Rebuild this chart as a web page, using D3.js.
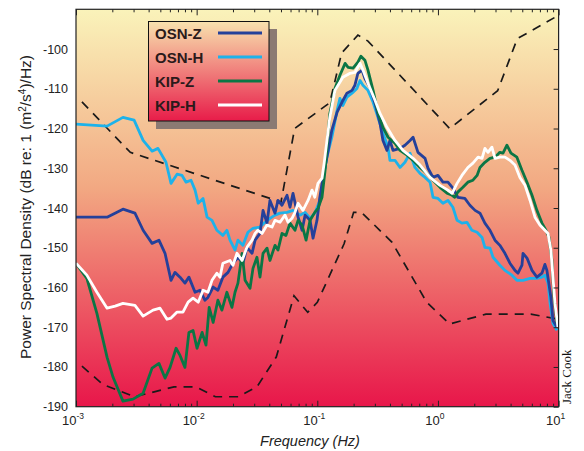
<!DOCTYPE html>
<html>
<head>
<meta charset="utf-8">
<script src="https://cdn.jsdelivr.net/npm/d3@7/dist/d3.min.js"></script>
<style>
  body { margin: 0; background: #fff; }
  svg { display: block; }
</style>
</head>
<body>
<div id="chart"></div>
<script>
// ---------------- data: [frequency (Hz), dB] ----------------
var osnZ = [[0.001,-142.3],[0.00181,-142.3],[0.00245,-140.3],[0.00308,-141.3],[0.0036,-145.6],[0.00427,-148.9],
  [0.00487,-148.1],[0.00547,-151.4],[0.00613,-158.2],[0.00661,-156.2],[0.00728,-157.4],[0.0080,-158.9],[0.00863,-157.4],
  [0.0097,-161.2],[0.01066,-160.7],[0.0117,-163.2],[0.0124,-162.5],[0.0137,-159.9],[0.0150,-160.7],[0.0165,-157.4],
  [0.0182,-156.2],[0.0200,-153.9],[0.0220,-152.4],[0.0242,-153.9],[0.0261,-149.9],[0.0288,-151.4],[0.0305,-148.1],
  [0.0335,-146.4],[0.0355,-140.6],[0.0383,-143.8],[0.0405,-138.1],[0.0446,-141.3],[0.0472,-138.1],[0.0510,-139.3],
  [0.0561,-136.8],[0.0594,-139.8],[0.0629,-136.3],[0.0693,-142.3],[0.0748,-145.6],[0.0792,-141.8],[0.0871,-143.1],
  [0.0922,-147.6],[0.0994,-143.1],[0.105,-137.3],[0.1115,-132.3],[0.116,-129.8],[0.132,-120.4],[0.146,-115.9],
  [0.160,-113.4],[0.176,-111.1],[0.194,-110.4],[0.205,-109.1],[0.217,-106.1],[0.235,-105.3],[0.248,-107.4],
  [0.273,-109.6],[0.301,-113.7],[0.331,-118.7],[0.350,-123.0],[0.378,-125.5],[0.400,-123.0],[0.424,-125.5],
  [0.485,-125.0],[0.533,-124.2],[0.587,-123.0],[0.622,-122.2],[0.683,-126.0],[0.782,-127.5],[0.827,-130.0],
  [0.910,-132.3],[1.0,-131.8],[1.10,-133.5],[1.21,-133.5],[1.33,-135.0],[1.46,-137.3],[1.67,-137.6],[1.84,-139.3],
  [2.03,-140.6],[2.23,-141.3],[2.45,-143.8],[2.70,-145.6],[2.97,-148.1],[3.26,-149.4],[3.59,-151.4],[3.95,-153.9],
  [4.35,-155.7],[4.61,-156.4],[4.97,-154.4],[5.07,-151.4],[5.47,-152.6],[6.02,-155.7],[6.61,-157.4],[7.28,-156.4],
  [7.70,-154.2],[8.0,-155.7],[8.63,-162.5],[8.98,-168.3],[9.7,-170.0]];

var osnH = [[0.001,-118.9],[0.00181,-119.4],[0.00245,-117.2],[0.00303,-117.9],[0.0036,-123.0],[0.00427,-125.7],
  [0.00478,-125.0],[0.00557,-128.5],[0.00613,-133.8],[0.00688,-131.5],[0.00757,-131.8],[0.00817,-133.5],[0.00898,-133.0],
  [0.0097,-135.5],[0.0103,-138.8],[0.0113,-137.6],[0.0122,-142.3],[0.0134,-143.1],[0.0147,-145.6],[0.0165,-146.9],
  [0.0178,-145.6],[0.0189,-148.1],[0.0208,-150.6],[0.0220,-148.1],[0.0242,-149.4],[0.0266,-146.1],[0.0293,-145.1],
  [0.0335,-144.8],[0.0368,-143.6],[0.0405,-142.6],[0.0446,-141.8],[0.0491,-141.3],[0.0561,-141.1],[0.0629,-140.6],
  [0.0719,-141.8],[0.0792,-141.1],[0.0871,-142.6],[0.0953,-141.3],[0.105,-138.1],[0.1115,-133.0],[0.116,-129.8],
  [0.120,-127.2],[0.132,-122.2],[0.146,-115.4],[0.154,-112.4],[0.163,-114.2],[0.176,-112.1],[0.194,-111.1],
  [0.213,-109.9],[0.226,-107.9],[0.239,-109.1],[0.263,-110.4],[0.290,-113.4],[0.318,-117.2],[0.350,-121.2],
  [0.386,-124.7],[0.400,-128.0],[0.440,-128.0],[0.485,-129.8],[0.533,-128.5],[0.587,-126.2],[0.645,-129.8],
  [0.710,-131.3],[0.782,-132.3],[0.860,-133.5],[0.910,-137.3],[1.0,-137.6],[1.10,-138.8],[1.21,-138.1],[1.33,-139.8],
  [1.44,-143.1],[1.58,-143.8],[1.74,-143.6],[1.91,-145.6],[2.11,-146.1],[2.32,-147.4],[2.45,-149.9],[2.70,-150.1],
  [2.86,-152.4],[3.26,-154.4],[3.59,-155.7],[4.10,-156.9],[4.51,-158.2],[5.07,-158.2],[5.80,-157.7],[6.61,-157.7],
  [7.28,-157.4],[7.70,-156.9],[8.17,-158.9],[8.5,-164.0],[8.98,-169.0],[9.7,-170.8]];

var kipZ = [[0.001,-153.9],[0.00123,-157.7],[0.00149,-166.5],[0.00181,-177.6],[0.00203,-182.6],[0.00245,-188.6],
  [0.00297,-188.1],[0.0036,-186.6],[0.00427,-180.3],[0.00487,-179.1],[0.00547,-182.8],[0.00602,-180.1],[0.00675,-175.3],
  [0.00728,-177.1],[0.0080,-180.1],[0.00863,-171.3],[0.00933,-170.8],[0.01007,-175.3],[0.0111,-171.3],[0.01195,-174.5],
  [0.0127,-165.0],[0.0137,-168.8],[0.0150,-163.2],[0.0162,-165.7],[0.0178,-161.2],[0.0196,-165.0],[0.0208,-161.2],
  [0.0220,-158.9],[0.0238,-151.4],[0.0252,-158.2],[0.0277,-160.2],[0.0293,-155.2],[0.0316,-152.4],[0.0335,-157.4],
  [0.0355,-151.4],[0.0383,-150.1],[0.0405,-153.2],[0.0446,-149.4],[0.0472,-150.6],[0.0510,-146.4],[0.0550,-146.9],
  [0.0594,-143.8],[0.0653,-145.6],[0.0693,-143.1],[0.0748,-144.3],[0.0807,-148.1],[0.0871,-143.1],[0.0953,-141.1],
  [0.1013,-140.1],[0.1094,-137.3],[0.116,-130.5],[0.127,-116.2],[0.140,-109.9],[0.154,-106.6],[0.170,-103.6],
  [0.180,-104.6],[0.198,-104.8],[0.217,-103.3],[0.230,-101.8],[0.248,-102.8],[0.263,-105.3],[0.290,-110.4],
  [0.318,-115.9],[0.350,-119.7],[0.386,-122.2],[0.440,-123.7],[0.485,-125.5],[0.554,-126.7],[0.622,-128.0],
  [0.710,-129.8],[0.810,-131.3],[0.910,-133.0],[1.04,-134.8],[1.19,-136.3],[1.31,-136.8],[1.38,-137.3],[1.46,-136.0],
  [1.61,-134.8],[1.77,-133.5],[1.95,-133.0],[2.11,-131.8],[2.23,-129.8],[2.45,-128.5],[2.70,-127.5],[2.97,-127.2],
  [3.26,-126.0],[3.46,-126.2],[3.73,-124.2],[4.03,-126.2],[4.51,-127.2],[4.97,-130.5],[5.47,-133.5],[6.02,-136.8],
  [6.61,-140.6],[7.28,-143.8],[7.85,-145.6],[8.33,-147.4],[8.81,-153.2],[9.15,-162.5],[9.7,-169.0]];

var kipH = [[0.001,-153.9],[0.00123,-156.9],[0.00149,-161.2],[0.00181,-165.2],[0.00211,-164.7],[0.00245,-164.0],
  [0.00308,-164.5],[0.0036,-167.2],[0.00435,-165.7],[0.00497,-165.2],[0.00568,-168.0],[0.00613,-167.7],[0.00688,-166.2],
  [0.0077,-166.2],[0.0085,-163.7],[0.00933,-162.7],[0.0103,-163.7],[0.0113,-160.7],[0.0124,-161.2],[0.0134,-158.2],
  [0.0147,-156.4],[0.0156,-157.4],[0.0165,-153.9],[0.0189,-153.2],[0.0200,-154.4],[0.0216,-151.4],[0.0238,-153.2],
  [0.0261,-149.9],[0.0288,-148.1],[0.0305,-146.4],[0.0322,-145.6],[0.0348,-146.4],[0.0383,-144.3],[0.0421,-144.8],
  [0.0446,-143.1],[0.0491,-143.6],[0.0540,-141.8],[0.0572,-143.6],[0.0617,-142.6],[0.0653,-141.1],[0.0693,-138.8],
  [0.0761,-140.6],[0.0838,-138.1],[0.0904,-135.5],[0.0953,-137.3],[0.1013,-133.8],[0.1094,-132.5],[0.114,-128.7],
  [0.127,-117.2],[0.140,-110.4],[0.163,-107.1],[0.187,-106.1],[0.205,-105.9],[0.226,-103.6],[0.239,-105.3],
  [0.263,-108.6],[0.301,-112.9],[0.331,-116.2],[0.378,-119.7],[0.440,-123.0],[0.513,-125.5],[0.622,-127.5],
  [0.710,-129.2],[0.860,-132.3],[1.04,-134.3],[1.21,-135.5],[1.31,-136.3],[1.44,-133.8],[1.58,-131.8],[1.77,-129.8],
  [1.95,-128.7],[2.15,-127.2],[2.32,-127.5],[2.45,-125.0],[2.60,-126.0],[2.80,-124.7],[2.97,-127.5],[3.26,-127.2],
  [3.59,-127.2],[3.95,-128.0],[4.35,-129.2],[4.78,-132.3],[5.27,-134.3],[5.80,-138.1],[6.37,-142.3],[7.0,-144.3],
  [7.70,-145.6],[8.17,-146.4],[8.63,-150.6],[8.98,-157.4],[9.33,-164.0],[9.88,-170.0]];

// Peterson new high / low noise models (dashed)
var highNoise = [[0.00112,-113.3],[0.00282,-126.0],[0.05,-138.5],[0.0649,-120.0],[0.127,-113.5],[0.159,-101.0],
  [0.217,-96.5],[0.263,-98.0],[1.25,-120.0],[3.125,-110.5],[4.545,-97.4],[10,-91.5]];
var lowNoise = [[0.00112,-179.8],[0.00167,-184.4],[0.00305,-187.5],[0.00649,-185.0],[0.0099,-185.0],[0.01429,-187.5],
  [0.0222,-187.5],[0.0316,-185.0],[0.0457,-177.5],[0.0641,-162.1],[0.0833,-166.25],[0.1,-163.75],[0.1667,-149.0],
  [0.2,-141.1],[0.2326,-141.1],[0.4167,-148.65],[0.806,-163.7],[1.25,-169.2],[2.5,-166.7],[5.88,-166.7],[10,-168.0]];

var seriesNames = ["OSN-Z", "OSN-H", "KIP-Z", "KIP-H"];
var seriesColors = ["#25409a", "#1db2ea", "#0b7645", "#ffffff"];
var yTicks = [-190, -180, -170, -160, -150, -140, -130, -120, -110, -100];
var xDecades = [-3, -2, -1, 0, 1];

// ---------------- layout ----------------
var width = 584, height = 451;
var plotL = 76, plotR = 558.6, plotT = 9.3, plotB = 406.7;

var svg = d3.select("#chart").append("svg")
  .attr("width", width).attr("height", height);

var x = d3.scaleLog().domain([1e-3, 10]).range([plotL, plotR]);
var y = d3.scaleLinear().domain([-190, -90]).range([plotB, plotT]);

var defs = svg.append("defs");
var bg = defs.append("linearGradient").attr("id", "bg").attr("x1", 0).attr("y1", 0).attr("x2", 0).attr("y2", 1);
bg.append("stop").attr("offset", "0%").attr("stop-color", "#faf3ba");
bg.append("stop").attr("offset", "45%").attr("stop-color", "#f2a882");
bg.append("stop").attr("offset", "100%").attr("stop-color", "#e8164a");

var lg = defs.append("linearGradient").attr("id", "lg").attr("x1", 0).attr("y1", 0).attr("x2", 0).attr("y2", 1);
lg.append("stop").attr("offset", "0%").attr("stop-color", "#f8e2ae");
lg.append("stop").attr("offset", "100%").attr("stop-color", "#e81c49");

defs.append("clipPath").attr("id", "plotclip")
  .append("rect").attr("x", plotL).attr("y", plotT).attr("width", plotR - plotL).attr("height", plotB - plotT);

svg.append("rect")
  .attr("x", plotL).attr("y", plotT).attr("width", plotR - plotL).attr("height", plotB - plotT)
  .attr("fill", "url(#bg)");

var line = d3.line().x(d => x(d[0])).y(d => y(d[1]));

var plot = svg.append("g").attr("clip-path", "url(#plotclip)");

// dashed noise models
[highNoise, lowNoise].forEach(function(m) {
  plot.append("path").datum(m)
    .attr("d", line)
    .attr("fill", "none")
    .attr("stroke", "#1a1a1a")
    .attr("stroke-width", 1.7)
    .attr("stroke-dasharray", "9,7");
});

// spectra, drawn light blue first so the others sit on top
var drawOrder = [[osnH, 1], [osnZ, 0], [kipZ, 2], [kipH, 3]];
drawOrder.forEach(function(s) {
  plot.append("path").datum(s[0])
    .attr("d", line)
    .attr("fill", "none")
    .attr("stroke", seriesColors[s[1]])
    .attr("stroke-width", 2.8)
    .attr("stroke-linejoin", "round");
});

// ---------------- axes ----------------
var xMinor = x.ticks();
function isMajor(v) { return Math.abs(Math.log10(v) - Math.round(Math.log10(v))) < 1e-6; }

var topAxis = svg.append("g").attr("transform", "translate(0," + plotT + ")")
  .call(d3.axisBottom(x).tickValues(xMinor).tickFormat("").tickSizeOuter(0));
topAxis.selectAll(".tick line").attr("y2", d => isMajor(d) ? 6 : 3).attr("stroke", "#222");
topAxis.select(".domain").remove();

var botAxis = svg.append("g").attr("transform", "translate(0," + plotB + ")")
  .call(d3.axisTop(x).tickValues(xMinor).tickFormat("").tickSizeOuter(0));
botAxis.selectAll(".tick line").attr("y2", d => isMajor(d) ? -6 : -3).attr("stroke", "#222");
botAxis.select(".domain").remove();

var rightAxis = svg.append("g").attr("transform", "translate(" + plotR + ",0)")
  .call(d3.axisLeft(y).tickValues(yTicks).tickFormat("").tickSize(5).tickSizeOuter(0));
rightAxis.selectAll(".tick line").attr("stroke", "#222");
rightAxis.select(".domain").remove();

// y tick labels
svg.append("g").selectAll("text")
  .data(yTicks)
  .join("text")
  .attr("x", 68)
  .attr("y", d => y(d) + 4.5)
  .attr("text-anchor", "end")
  .style("font-family", "'Liberation Sans', Arial, sans-serif")
  .style("font-size", "12.5px")
  .style("fill", "#222")
  .text(d => d);

// x tick labels (powers of ten)
var xl = svg.append("g").selectAll("text")
  .data(xDecades)
  .join("text")
  .attr("x", d => x(Math.pow(10, d)) - 3)
  .attr("y", 425)
  .attr("text-anchor", "middle")
  .style("font-family", "'Liberation Sans', Arial, sans-serif")
  .style("font-size", "13px")
  .style("fill", "#222");
xl.append("tspan").text("10");
xl.append("tspan").attr("dy", -6).style("font-size", "8.5px").text(d => d);

// frame
svg.append("rect")
  .attr("x", plotL).attr("y", plotT).attr("width", plotR - plotL).attr("height", plotB - plotT)
  .attr("fill", "none").attr("stroke", "#222").attr("stroke-width", 1.2);

// axis titles
svg.append("text")
  .attr("x", 310)
  .attr("y", 446)
  .attr("text-anchor", "middle")
  .style("font-family", "'Liberation Sans', Arial, sans-serif")
  .style("font-size", "14.5px")
  .style("font-style", "italic")
  .style("fill", "#222")
  .text("Frequency (Hz)");

var yt = svg.append("text")
  .attr("transform", "translate(31,207) rotate(-90)")
  .attr("text-anchor", "middle")
  .style("font-family", "'Liberation Sans', Arial, sans-serif")
  .style("font-size", "15.5px")
  .style("fill", "#222");
yt.append("tspan").text("Power Spectral Density (dB re: 1 (m");
yt.append("tspan").attr("dy", -5.5).style("font-size", "10px").text("2");
yt.append("tspan").attr("dy", 5.5).text("/s");
yt.append("tspan").attr("dy", -5.5).style("font-size", "10px").text("4");
yt.append("tspan").attr("dy", 5.5).text(")/Hz)");

// signature
svg.append("text")
  .attr("transform", "translate(571,404) rotate(-90)")
  .style("font-family", "'Liberation Serif', 'Times New Roman', serif")
  .style("font-size", "13px")
  .style("fill", "#111")
  .text("Jack Cook");

// ---------------- legend ----------------
var legend = svg.append("g");
legend.append("rect")
  .attr("x", 156).attr("y", 29).attr("width", 121).attr("height", 100)
  .attr("fill", "#8b7a73");
legend.append("rect")
  .attr("x", 148.5).attr("y", 21.5).attr("width", 120.5).attr("height", 99.5)
  .attr("fill", "url(#lg)").attr("stroke", "#111").attr("stroke-width", 1);

var rowY = [33, 57, 81, 105];
legend.selectAll(".lt")
  .data(seriesNames)
  .join("text")
  .attr("x", 155)
  .attr("y", (d, i) => rowY[i] + 5.5)
  .style("font-family", "'Liberation Sans', Arial, sans-serif")
  .style("font-size", "15px")
  .style("font-weight", "700")
  .style("fill", "#2a1a1a")
  .text(d => d);

legend.selectAll(".ll")
  .data(seriesNames)
  .join("line")
  .attr("x1", 218).attr("x2", 262)
  .attr("y1", (d, i) => rowY[i]).attr("y2", (d, i) => rowY[i])
  .attr("stroke", (d, i) => seriesColors[i])
  .attr("stroke-width", 3);
</script>
</body>
</html>
